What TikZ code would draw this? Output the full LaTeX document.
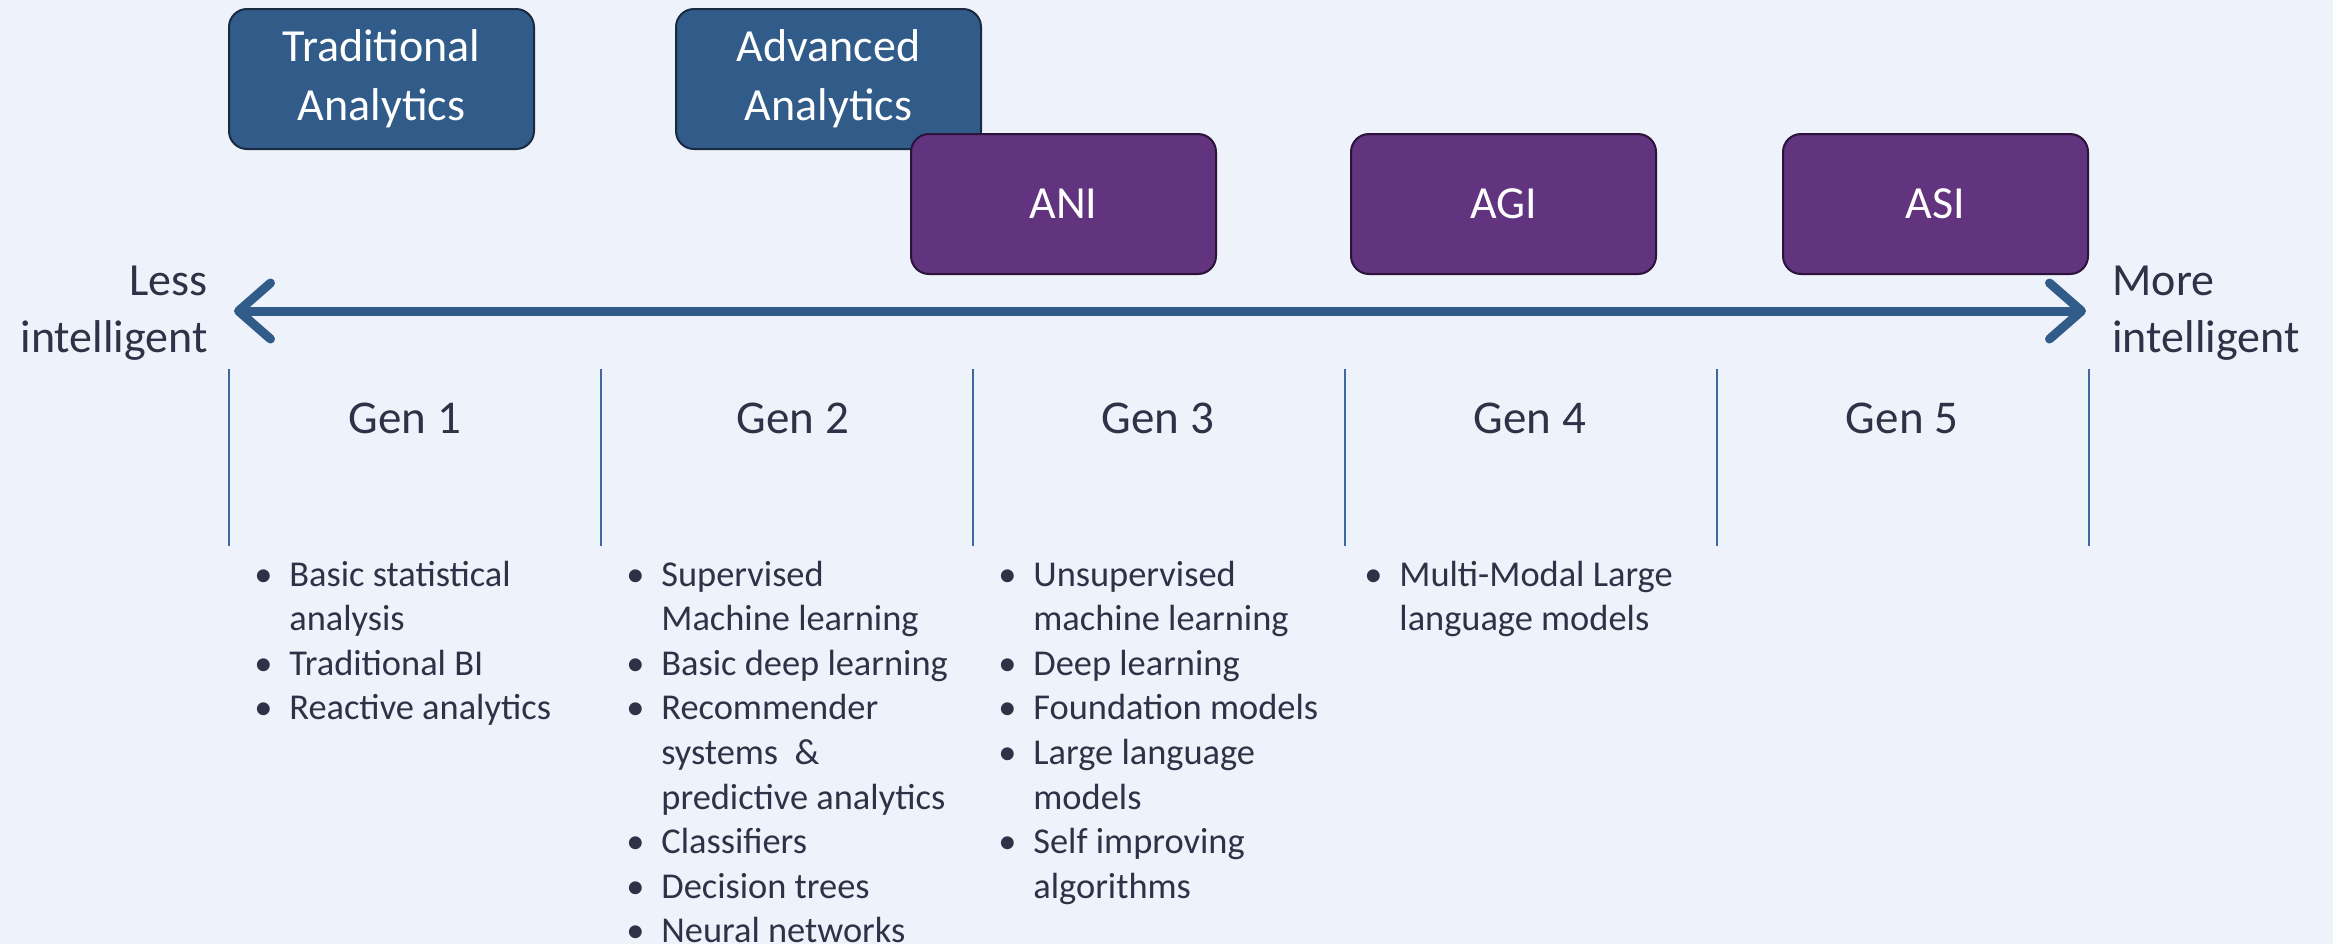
\documentclass[tikz,border=0pt]{standalone}
\usepackage{fontspec}
\setmainfont{Carlito}
\usetikzlibrary{arrows.meta}
\definecolor{bg}{HTML}{EEF2FA}
\definecolor{boxblue}{HTML}{315C8A}
\definecolor{boxblueedge}{HTML}{1A2A40}
\definecolor{boxpurple}{HTML}{62337F}
\definecolor{boxpurpleedge}{HTML}{2A1438}
\definecolor{txt}{HTML}{2E3247}
\definecolor{axisblue}{HTML}{315C8A}
\definecolor{sepblue}{HTML}{4068A0}
\newcommand{\bitem}[1]{\makebox[17.5pt][l]{\textbullet}\begin{tabular}[t]{@{}l@{}}#1\end{tabular}}
\newcommand{\boxtext}[1]{\raisebox{-1.6pt}{\begin{tabular}{@{}c@{}}#1\end{tabular}}}
\begin{document}
\begin{tikzpicture}[x=0.5pt,y=-0.5pt,
  stage/.style={draw, line width=1pt, rounded corners=9pt, minimum width=152.5pt, minimum height=70pt,
    inner sep=0pt, text=white, font=\fontsize{23pt}{29.5pt}\selectfont},
  bluebox/.style={stage, fill=boxblue, draw=boxblueedge},
  purplebox/.style={stage, fill=boxpurple, draw=boxpurpleedge},
  axis/.style={line width=4.5pt, draw=axisblue, {Straight Barb[length=16pt, width=28pt, round]}-{Straight Barb[length=16pt, width=28pt, round]}},
  sep/.style={line width=0.7pt, draw=sepblue},
  gen/.style={anchor=base, inner sep=0pt, text=txt, font=\fontsize{23.5pt}{28pt}\selectfont},
  endlabel/.style={inner sep=0pt, text=txt, font=\fontsize{23pt}{28.25pt}\selectfont},
  bl/.style={anchor=base west, inner sep=0pt, text=txt, font=\fontsize{18.2pt}{22.3pt}\selectfont}
]
\useasboundingbox (0,0) rectangle (2333,944);
\fill[bg] (0,0) rectangle (2333,944);

% stage boxes
\node[bluebox] (trad) at (381.5,79) {\boxtext{Traditional\\Analytics}};
\node[bluebox] (adv) at (828.5,79) {\boxtext{Advanced\\Analytics}};
\node[purplebox] (ani) at (1063.5,204) {ANI};
\node[purplebox] (agi) at (1503.5,204) {AGI};
\node[purplebox] (asi) at (1935.5,204) {ASI};

% axis
\coordinate (L) at (234,311);
\coordinate (R) at (2086,311);
\draw[axis] (L) -- (R);
\node[endlabel, anchor=base east, align=right] (less) at (208,352) {Less\\intelligent};
\node[endlabel, anchor=base west, align=left] (more) at (2112,352) {More\\intelligent};

% separators
\foreach \i/\x in {0/229,1/601,2/973,3/1345,4/1717,5/2089}{
  \coordinate (t\i) at (\x,369);
  \coordinate (b\i) at (\x,546);
  \draw[sep] (t\i) -- (b\i);
}

% generation labels
\node[gen] (g1) at (405,433) {Gen 1};
\node[gen] (g2) at (793,433) {Gen 2};
\node[gen] (g3) at (1158,433) {Gen 3};
\node[gen] (g4) at (1530,433) {Gen 4};
\node[gen] (g5) at (1902,433) {Gen 5};

% Gen 1 list
\node[bl] (a1) at (254,586) {\bitem{Basic statistical\\analysis}};
\node[bl] (a2) at (254,675.2) {\bitem{Traditional BI}};
\node[bl] (a3) at (254,719.8) {\bitem{Reactive analytics}};
% Gen 2 list
\node[bl] (b1) at (626,586) {\bitem{Supervised\\Machine learning}};
\node[bl] (b2) at (626,675.2) {\bitem{Basic deep learning}};
\node[bl] (b3) at (626,719.8) {\bitem{Recommender\\systems~~\&\\predictive analytics}};
\node[bl] (b4) at (626,853.6) {\bitem{Classifiers}};
\node[bl] (b5) at (626,898.2) {\bitem{Decision trees}};
\node[bl] (b6) at (626,942.8) {\bitem{Neural networks}};
% Gen 3 list
\node[bl] (c1) at (998,586) {\bitem{Unsupervised\\machine learning}};
\node[bl] (c2) at (998,675.2) {\bitem{Deep learning}};
\node[bl] (c3) at (998,719.8) {\bitem{Foundation models}};
\node[bl] (c4) at (998,764.4) {\bitem{Large language\\models}};
\node[bl] (c5) at (998,853.6) {\bitem{Self improving\\algorithms}};
% Gen 4 list
\node[bl] (d1) at (1364,586) {\bitem{Multi-Modal Large\\language models}};
\end{tikzpicture}
\end{document}
